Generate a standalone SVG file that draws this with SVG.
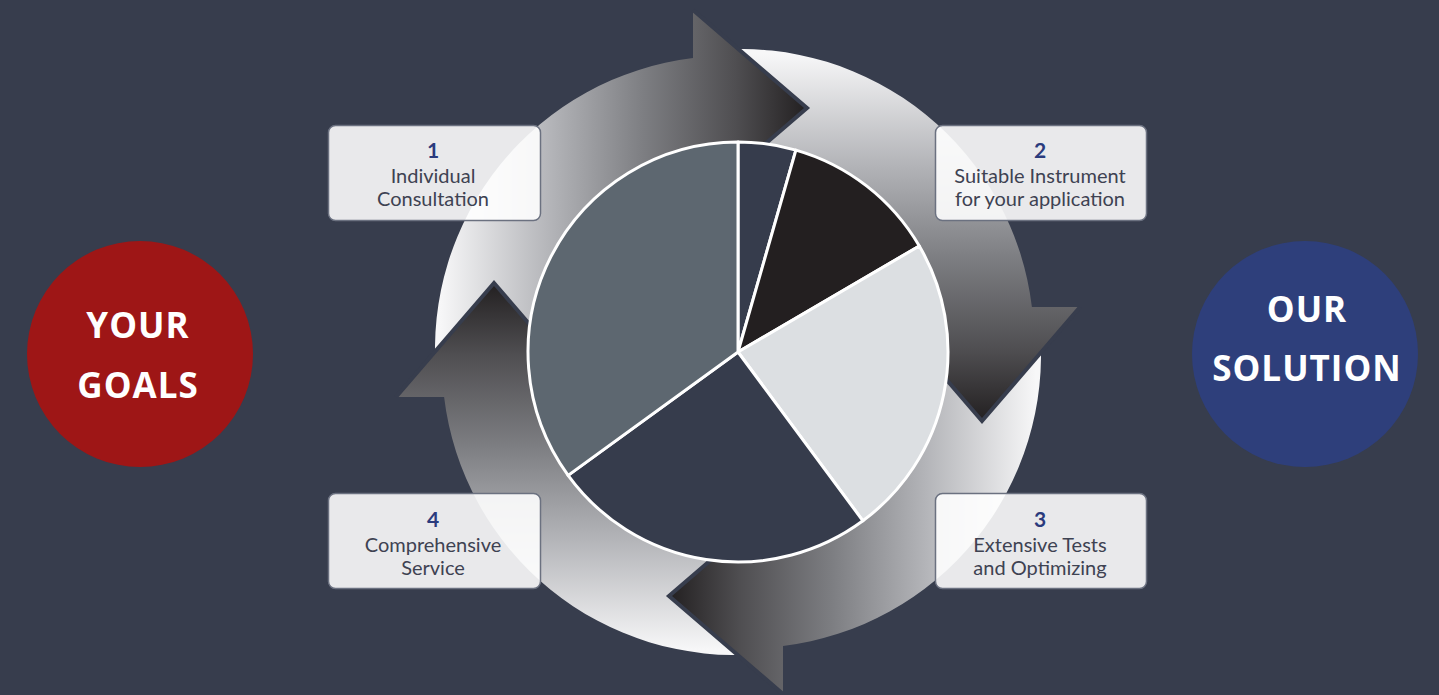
<svg xmlns="http://www.w3.org/2000/svg" width="1439" height="695" viewBox="0 0 1439 695">
  <defs>
    <linearGradient id="arrowGrad" gradientUnits="userSpaceOnUse" x1="440" y1="0" x2="810" y2="0">
      <stop offset="0" stop-color="#f7f7f8"/>
      <stop offset="0.3" stop-color="#b3b4b8"/>
      <stop offset="0.55" stop-color="#7d7e82"/>
      <stop offset="0.8" stop-color="#4f4e51"/>
      <stop offset="1" stop-color="#211e1f"/>
    </linearGradient>
    <path id="band" d="M436.1,374.5 A293,293 0 0 1 693,58.1 L693,10 L807,108 L693,206 L693,157.2 A195,195 0 0 0 533.7,366 Z"/>
    <path id="head" d="M693,10 L807,108 L693,206 Z"/>
    <path id="headEdge" d="M693,10 L807,108 L693,206"/>
  </defs>
  <style>
    .bg { fill: #373d4d; }
    .band { fill: url(#arrowGrad); }
    .edge { fill: none; stroke: #373d4d; stroke-width: 4; stroke-linejoin: miter; }
    .slice { stroke: #ffffff; stroke-width: 3; stroke-linejoin: round; }
    .box { fill: #ffffff; fill-opacity: 0.89; stroke: #6b7180; stroke-width: 1.5; }
    .num { font-family: Lato, "Liberation Sans", sans-serif; font-weight: 700; font-size: 21px; fill: #2b3b7d; text-anchor: middle; }
    .lbl { font-family: Lato, "Liberation Sans", sans-serif; font-size: 20px; fill: #3e4252; text-anchor: middle; }
    .big { font-family: "Open Sans", "Liberation Sans", sans-serif; font-weight: 700; font-size: 35px; fill: #ffffff; text-anchor: middle; letter-spacing: 1px; }
  </style>

  <rect class="bg" x="0" y="0" width="1439" height="695"/>

  <g id="connectors">
    <g id="arrow-bands">
      <use href="#band" class="band"/>
      <use href="#band" class="band" transform="rotate(90 738 352)"/>
      <use href="#band" class="band" transform="rotate(180 738 352)"/>
      <use href="#band" class="band" transform="rotate(270 738 352)"/>
    </g>
    <g id="arrow-heads">
      <g><use href="#head" class="band"/><use href="#headEdge" class="edge"/></g>
      <g transform="rotate(90 738 352)"><use href="#head" class="band"/><use href="#headEdge" class="edge"/></g>
      <g transform="rotate(180 738 352)"><use href="#head" class="band"/><use href="#headEdge" class="edge"/></g>
      <g transform="rotate(270 738 352)"><use href="#head" class="band"/><use href="#headEdge" class="edge"/></g>
    </g>
  </g>

  <g id="pie">
    <path class="slice" fill="#363c4c" d="M738,352 L738,142 A210,210 0 0 1 795.9,150.1 Z"/>
    <path class="slice" fill="#231f20" d="M738,352 L795.9,150.1 A210,210 0 0 1 919.3,246 Z"/>
    <path class="slice" fill="#dcdfe2" d="M738,352 L919.3,246 A210,210 0 0 1 862.9,520.8 Z"/>
    <path class="slice" fill="#363c4c" d="M738,352 L862.9,520.8 A210,210 0 0 1 568.1,475.4 Z"/>
    <path class="slice" fill="#5d6770" d="M738,352 L568.1,475.4 A210,210 0 0 1 738,142 Z"/>
  </g>

  <g id="step1">
    <rect class="box" x="328.5" y="125.5" width="212" height="95" rx="7"/>
    <text class="num" x="433" y="158">1</text>
    <text class="lbl" x="433" y="183">Individual</text>
    <text class="lbl" x="433" y="206">Consultation</text>
  </g>
  <g id="step2">
    <rect class="box" x="935.5" y="125.5" width="211" height="95" rx="7"/>
    <text class="num" x="1040" y="158">2</text>
    <text class="lbl" x="1040" y="183">Suitable Instrument</text>
    <text class="lbl" x="1040" y="206">for your application</text>
  </g>
  <g id="step3">
    <rect class="box" x="935.5" y="493.5" width="211" height="95" rx="7"/>
    <text class="num" x="1040" y="527">3</text>
    <text class="lbl" x="1040" y="552">Extensive Tests</text>
    <text class="lbl" x="1040" y="575">and Optimizing</text>
  </g>
  <g id="step4">
    <rect class="box" x="328.5" y="493.5" width="212" height="95" rx="7"/>
    <text class="num" x="433" y="527">4</text>
    <text class="lbl" x="433" y="552">Comprehensive</text>
    <text class="lbl" x="433" y="575">Service</text>
  </g>

  <g id="your-goals">
    <circle cx="140" cy="354" r="113" fill="#9e1616"/>
    <text class="big" x="138" y="338">YOUR</text>
    <text class="big" x="138" y="398">GOALS</text>
  </g>
  <g id="our-solution">
    <circle cx="1305" cy="354" r="113" fill="#2e3f7b"/>
    <text class="big" x="1307" y="322">OUR</text>
    <text class="big" x="1307" y="381">SOLUTION</text>
  </g>
</svg>
